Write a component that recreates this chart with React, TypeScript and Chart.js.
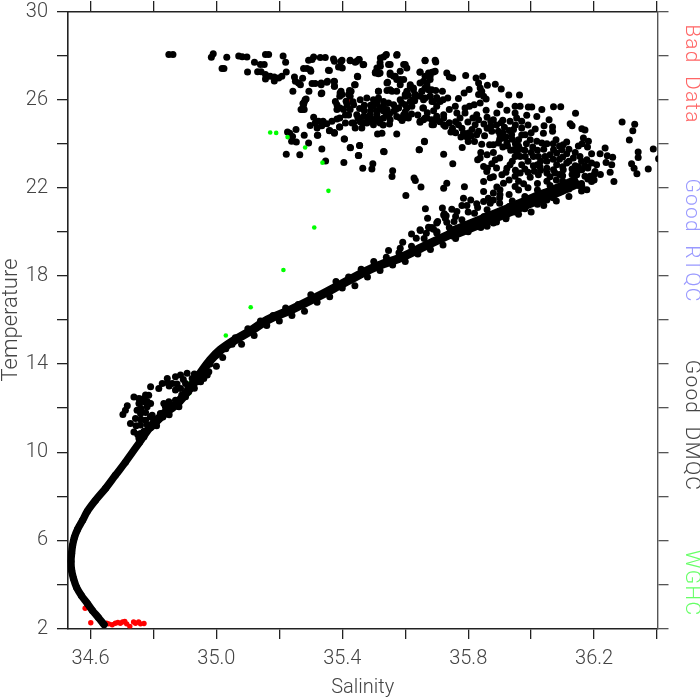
import React, { useEffect, useRef } from "react";
import { Chart, registerables } from "chart.js";

Chart.register(...registerables);

type P = [number, number];

const xTickValues = [34.6, 34.8, 35.0, 35.2, 35.4, 35.6, 35.8, 36.0, 36.2, 36.4];
const xLabelled = ["34.6", "35.0", "35.4", "35.8", "36.2"];
const yTickValues = [2, 4, 6, 8, 10, 12, 14, 16, 18, 20, 22, 24, 26, 28, 30];
const yLabelled = [2, 6, 10, 14, 18, 22, 26, 30];

// Salinity, temperature: the tight core of the water-mass curve
const deepCurve: P[] = [
  [34.643,2.18],[34.625,2.5],[34.606,2.82],[34.59,3.14],[34.571,3.5],[34.556,3.86],[34.546,4.27],[34.54,4.64],[34.538,5.05],[34.54,5.41],
  [34.543,5.77],[34.549,6.14],[34.559,6.5],[34.575,6.91],[34.59,7.32],[34.616,7.82],[34.648,8.36],[34.679,8.95],[34.711,9.55],[34.756,10.45],[34.79,11.14],
];
const midCurve: P[] = [
  [34.79,11.14],[34.832,11.73],[34.879,12.27],[34.917,12.93],[34.949,13.57],[34.981,14.18],[35.013,14.64],[35.054,15.05],[35.108,15.5],[35.162,16.0],[35.235,16.45],
  [35.321,17.05],[35.416,17.77],[35.505,18.41],[35.584,18.82],[35.67,19.41],[35.752,19.95],
];
const topCurve: P[] = [
  [35.752,19.95],[35.838,20.45],[35.924,20.95],[36.006,21.45],[36.07,21.8],[36.133,22.2],
];

const bandEdges: P[] = [
  [35.06,15.2],[35.08,14.9],[35.1,15.6],[35.12,15.3],[35.14,15.95],[35.16,15.75],[35.18,16.2],[35.2,15.95],[35.22,16.55],[35.24,16.2],
  [35.26,16.7],[35.28,16.4],[35.3,17.15],[35.32,16.8],[35.34,17.2],[35.36,17.05],[35.38,17.75],[35.4,17.45],[35.42,17.95],[35.44,17.55],
  [35.46,18.3],[35.48,17.95],[35.5,18.65],[35.52,18.25],[35.54,18.85],[35.56,18.5],[35.58,19.05],[35.6,18.65],[35.62,19.35],[35.64,19.0],
  [35.66,19.7],[35.68,19.2],[35.7,19.95],[35.72,19.4],[35.74,20.2],[35.76,19.7],[35.78,20.55],[35.8,20.0],[35.82,20.85],[35.84,20.2],
  [35.86,21.0],[35.88,20.4],[35.9,21.3],[35.92,20.65],[35.94,21.4],[35.96,20.8],[35.98,21.6],[36.0,20.9],[36.02,21.9],[36.04,21.2],
  [36.06,22.1],[36.08,21.4],[36.1,22.3],[36.12,21.6],[36.14,22.55],[36.16,21.85],
  [35.85,20.7],[35.87,20.7],[35.89,20.85],[35.91,21.0],[35.93,21.15],[35.95,21.2],[35.97,21.3],[35.99,21.3],[36.01,21.5],[36.03,21.6],
  [36.05,21.75],[36.07,21.9],[36.09,22.0],[36.11,22.1],[36.13,22.3],[36.13,22.6],[36.16,22.2],[36.18,22.4],[36.2,22.6],
  [35.0,14.4],[35.02,14.3],[34.98,14.0],[35.0,13.9],[35.03,14.7],[35.05,14.9],[35.01,14.6],[34.95,13.2],[34.93,12.9],
  [35.62,19.9],[35.7,20.4],[35.76,20.7],[35.8,20.9],[35.83,21.1],[35.87,21.3],[35.9,21.55],[35.93,21.7],[35.96,21.9],[35.99,22.0],
  [36.02,22.2],[36.05,22.3],[36.08,22.35],[36.1,22.55],[36.13,22.85],[36.15,22.95],[36.18,22.9],[36.2,22.35],[36.22,22.6],[36.17,23.0],
  [36.15,22.1],[36.12,21.95],[36.1,21.85],[36.07,21.55],[36.05,21.45],[36.02,21.25],[35.98,21.05],[35.95,20.9],[35.92,20.6],[35.89,20.45],[35.86,20.25],
];

const shelfBump: P[] = [
  [34.703,11.71],[34.711,11.91],[34.717,12.11],[34.738,12.51],[34.754,12.44],[34.754,12.21],[34.77,12.44],[34.785,12.59],[34.791,12.97],[34.817,12.89],
  [34.828,13.12],[34.844,13.35],[34.86,13.12],[34.87,13.42],[34.886,13.5],[34.907,13.58],[34.923,13.35],[34.939,13.5],[34.955,13.65],[34.976,13.65],
  [34.971,13.5],[34.77,12.29],[34.78,12.06],[34.791,12.21],[34.748,11.91],[34.759,11.76],[34.743,11.53],[34.727,11.3],[34.759,11.23],[34.775,11.45],
  [34.796,11.68],[34.801,11.45],[34.738,10.92],[34.759,10.85],[34.78,11.0],[34.754,10.62],[34.791,11.23],[34.833,12.21],[34.844,11.91],[34.849,12.29],
  [34.87,12.36],[34.886,12.44],[34.87,12.82],[34.886,12.89],[34.902,13.12],[34.822,11.76],[34.812,11.45],[34.838,12.06],[34.881,12.06],[34.902,12.52],[34.912,12.74],
  [34.775,11.8],[34.76,11.5],[34.745,11.2],[34.78,11.25],[34.77,10.95],[34.75,10.8],[34.77,10.7],[34.79,11.6],[34.81,11.2],[34.83,11.6],
  [34.85,11.7],[34.86,12.0],[34.88,12.2],[34.89,12.6],[34.91,12.95],[34.925,13.1],[34.94,13.2],[34.96,13.35],[34.85,13.0],[34.845,13.15],
  [34.875,13.1],[34.895,13.3],[34.93,13.55],[34.76,12.4],[34.78,12.3],[34.76,12.0],[34.775,12.6],
];

const upperLeft: P[] = [
  [34.849,28.05],[34.862,28.05],[34.984,27.92],[34.99,28.08],[35.033,27.92],[35.071,27.98],[35.082,27.95],[35.097,27.94],[35.156,28.05],[35.166,28.05],
  [35.212,27.98],[35.22,27.7],[35.121,27.7],[35.14,27.59],[35.152,27.59],[35.018,27.41],[35.024,27.41],[35.099,27.26],[35.131,27.27],[35.142,27.27],
  [35.156,27.14],[35.156,26.94],[35.171,27.06],[35.184,27.03],[35.184,26.85],[35.198,26.98],[35.208,27.06],[35.222,27.26],[35.309,27.94],[35.293,27.79],
  [35.304,27.82],[35.33,27.91],[35.346,27.91],[35.372,27.85],[35.375,27.74],[35.396,27.74],[35.388,27.48],[35.4,27.44],[35.425,27.77],[35.441,27.7],
  [35.454,27.82],[35.466,27.58],[35.277,27.41],[35.288,27.41],[35.298,27.36],[35.3,27.29],[35.359,27.32],[35.449,27.04],[35.248,27.03],[35.251,26.83],
  [35.261,26.76],[35.267,26.68],[35.274,26.97],[35.304,26.73],[35.314,26.73],[35.333,26.68],[35.351,26.79],[35.375,26.82],[35.375,26.61],[35.439,26.68],
  [35.243,26.38],[35.294,26.38],[35.333,26.27],[35.285,26.03],[35.279,25.88],[35.275,25.82],[35.269,25.55],[35.279,25.55],[35.396,26.38],[35.392,26.15],
  [35.423,26.42],[35.42,26.23],[35.428,26.38],[35.309,25.2],[35.314,24.94],[35.298,24.83],[35.325,25.02],[35.339,25.02],[35.32,24.71],[35.335,24.82],
  [35.351,24.91],[35.367,25.02],[35.383,25.12],[35.392,25.17],[35.41,24.94],[35.431,24.94],[35.392,24.76],[35.359,24.59],[35.375,24.48],[35.322,24.38],
  [35.279,24.38],[35.253,24.65],[35.226,24.53],[35.233,24.48],[35.242,24.33],[35.239,24.11],[35.254,24.08],[35.293,24.03],[35.222,23.52],[35.265,23.5],
  [35.335,23.76],[35.347,23.21],[35.405,23.15],[35.451,23.47],[35.426,23.82],[35.455,23.92],[35.406,24.21],[35.465,22.89],[35.494,22.85],[35.497,23.09],
  [35.533,23.64],[35.56,22.77],[35.558,22.51],
];

const denseCluster: P[] = [
  [35.538,28.01],[35.573,28.01],[35.663,27.79],[35.695,27.79],[35.52,27.67],[35.547,27.59],[35.6,27.59],[35.51,27.44],[35.52,27.21],[35.505,27.21],
  [35.552,27.21],[35.584,27.29],[35.647,27.26],[35.69,27.26],[35.563,27.06],[35.573,26.91],[35.595,26.91],[35.663,27.06],[35.679,27.06],[35.542,26.76],
  [35.616,26.61],[35.584,26.68],[35.647,26.76],[35.626,26.45],[35.653,26.38],[35.669,26.61],[35.684,26.45],[35.6,26.23],[35.573,26.38],[35.552,26.45],
  [35.515,26.38],[35.584,26.0],[35.6,25.77],[35.679,26.15],[35.69,25.92],[35.658,25.62],[35.663,26.08],[35.632,26.15],[35.626,26.0],[35.616,25.92],
  [35.499,26.0],[35.515,26.08],[35.531,25.92],[35.547,25.85],[35.563,25.77],[35.579,25.62],[35.595,25.32],[35.61,25.17],[35.499,25.7],[35.52,25.62],
  [35.542,25.55],[35.563,25.47],[35.478,26.08],[35.457,26.0],[35.436,25.77],[35.415,25.77],[35.393,25.62],[35.383,25.55],[35.404,25.55],[35.425,25.55],
  [35.446,25.32],[35.467,25.24],[35.489,25.32],[35.51,25.32],[35.531,25.17],[35.552,25.09],[35.573,25.24],[35.457,25.0],[35.436,24.94],[35.478,24.94],
  [35.499,24.86],[35.52,24.94],[35.441,24.71],[35.462,24.71],[35.526,24.48],[35.512,24.44],[35.647,25.02],[35.663,25.17],[35.684,25.09],[35.7,25.09],
  [35.69,24.86],[35.425,26.38],[35.399,26.23],[35.425,26.15],[35.378,25.92],[35.383,25.77],[35.393,26.3],[35.272,25.55],[35.282,26.0],[35.277,25.77],
  [35.399,27.79],[35.393,27.52],[35.425,27.79],[35.446,27.74],[35.468,27.59],[35.452,27.82],[35.353,26.83],[35.374,26.83],[35.375,26.61],[35.333,26.76],
  [35.335,26.3],[35.441,26.68],[35.448,27.06],[35.356,27.33],[35.573,24.44],[35.531,23.65],[35.661,24.11],[35.645,23.73],[35.455,23.92],[35.425,23.83],
  [35.407,24.21],[35.452,23.47],[35.391,24.76],[35.36,24.6],[35.375,24.51],[35.321,24.38],[35.49,25.5],[35.51,25.5],[35.53,25.5],[35.47,25.5],
  [35.455,25.6],[35.48,25.2],[35.5,25.1],[35.52,25.1],[35.54,25.3],[35.515,26.38],[35.542,26.42],[35.558,26.38],[35.544,26.79],[35.521,27.89],
  [35.54,28.05],[35.531,27.94],[35.574,28.05],[35.552,27.59],[35.521,27.51],[35.505,27.24],[35.515,27.18],[35.552,27.14],[35.568,27.06],[35.584,26.91],
  [35.45,25.15],[35.47,25.75],[35.49,25.75],[35.51,25.85],[35.53,25.7],[35.55,25.35],[35.57,25.55],[35.47,24.95],[35.49,25.05],[35.51,25.05],
  [35.53,24.85],[35.55,24.9],[35.42,25.3],[35.41,25.3],[35.59,25.05],[35.6,25.45],[35.412,25.93],[35.434,25.9],
];

const upperRight: P[] = [
  [35.663,27.77],[35.697,27.71],[35.595,27.59],[35.605,27.44],[35.647,27.24],[35.674,27.21],[35.685,27.24],[35.695,27.29],[35.658,26.83],[35.669,26.76],
  [35.679,26.91],[35.663,26.53],[35.674,26.45],[35.653,26.38],[35.647,26.15],[35.616,26.68],[35.626,26.53],[35.605,26.38],[35.632,26.23],[35.6,26.15],
  [35.589,25.85],[35.605,25.62],[35.658,26.0],[35.679,26.15],[35.685,25.92],[35.732,27.21],[35.74,27.03],[35.751,26.98],[35.792,27.09],[35.825,26.98],
  [35.833,26.76],[35.838,26.53],[35.843,26.38],[35.833,26.23],[35.849,26.15],[35.857,26.03],[35.846,27.06],[35.861,26.65],[35.886,26.7],[35.905,26.48],
  [35.929,26.21],[35.963,26.21],[35.803,26.46],[35.787,26.3],[35.769,26.05],[35.735,26.08],[35.718,26.38],[35.697,26.42],[35.711,25.92],[35.7,25.7],
  [35.74,25.55],[35.759,25.7],[35.764,25.39],[35.722,25.32],[35.722,25.17],[35.722,24.86],[35.727,24.79],[35.745,24.53],[35.695,25.09],[35.685,24.86],
  [35.669,25.17],[35.658,25.09],[35.647,24.97],[35.656,25.62],[35.621,25.7],[35.607,25.24],[35.595,25.17],[35.584,25.17],[35.79,25.62],[35.804,25.7],
  [35.79,25.39],[35.774,25.17],[35.769,24.86],[35.799,24.99],[35.815,25.17],[35.827,25.32],[35.833,25.09],[35.819,25.77],[35.838,25.85],[35.857,25.52],
  [35.822,24.86],[35.812,24.64],[35.801,24.49],[35.785,24.49],[35.777,24.3],[35.796,24.3],[35.833,24.56],[35.827,24.41],[35.852,24.36],[35.872,25.02],
  [35.872,24.79],[35.875,24.56],[35.88,25.09],[35.891,25.39],[35.901,25.77],[35.923,25.52],[35.949,25.7],[35.965,25.7],[35.991,25.67],[36.002,25.67],
  [36.034,25.55],[36.071,25.68],[36.094,25.68],[36.141,25.38],[36.057,25.09],[36.018,25.24],[35.986,25.29],[35.97,25.02],[35.949,25.39],[35.933,25.02],
  [35.91,25.06],[35.954,25.17],[35.97,24.71],[36.013,24.67],[36.041,24.82],[36.039,24.48],[36.068,24.76],[36.068,24.56],[35.944,24.64],[35.938,24.41],
  [35.896,24.56],[35.901,24.41],[35.912,24.26],[35.923,24.03],[35.896,24.03],[35.88,23.95],[35.868,23.95],[35.843,23.98],[35.96,24.18],[35.981,24.41],
  [35.997,24.18],[36.018,24.11],[36.034,24.03],[36.05,24.0],[36.079,24.18],[36.113,24.08],[36.102,23.95],[36.097,23.73],[36.124,24.91],[36.13,24.82],
  [36.161,24.68],[36.171,24.62],[36.166,24.26],[36.182,24.11],[36.162,24.0],[36.179,23.85],[36.235,23.8],[36.219,23.55],[36.242,23.45],[36.259,23.39],
  [36.238,23.15],[36.256,23.05],[36.251,22.7],[36.263,22.29],[36.289,24.99],[36.329,24.88],[36.323,24.59],[36.312,24.17],[36.34,23.62],[36.34,23.38],
  [36.388,23.76],[36.405,23.32],[36.319,23.09],[36.327,22.89],[36.336,22.64],[36.372,22.85],[36.071,23.73],[36.081,23.58],[36.113,23.55],[36.134,23.35],
  [36.155,23.42],[36.192,23.55],[36.177,23.27],[36.192,23.12],[36.208,23.05],[36.203,22.74],[36.187,22.52],[36.192,22.29],[36.171,22.52],[36.177,21.91],
  [36.161,22.06],[36.161,22.82],[36.134,22.74],[36.145,22.59],[36.113,23.12],[36.081,23.05],[36.102,22.82],[36.076,22.67],[36.05,22.89],[36.028,22.97],
  [36.007,23.0],[36.007,23.42],[36.023,23.42],[36.044,23.42],[35.981,23.42],[35.965,23.42],[35.944,23.73],[35.949,23.42],[35.933,23.05],[35.923,22.89],
  [35.907,22.59],[35.97,23.05],[35.965,22.67],[35.949,22.52],[35.976,22.18],[35.997,22.48],[36.023,22.59],[36.05,22.67],[36.071,22.82],[35.838,23.35],
  [35.83,23.27],[35.886,23.27],[35.875,23.09],[35.861,22.89],[35.849,22.97],[35.859,22.74],[35.751,23.09],[35.722,23.52],[35.781,23.83],[35.661,24.09],
  [35.644,23.73],[35.628,22.44],[35.632,22.33],[35.65,22.03],[35.602,21.65],[35.722,21.98],[35.732,22.21],[35.788,22.05],[35.849,22.29],[35.849,21.83],
  [35.891,22.03],[35.901,21.91],[35.912,22.21],[35.88,21.76],[35.864,21.53],[35.901,21.68],[35.949,22.06],[35.785,21.53],[35.808,21.45],[35.78,21.2],
  [35.796,21.2],[35.849,21.38],[35.88,21.45],[35.827,21.27],[35.664,21.05],[35.718,21.08],[35.748,21.03],[35.764,20.92],[35.722,20.77],[35.727,20.62],
  [35.671,20.62],[35.703,20.47],[35.732,20.44],[35.755,20.47],[35.647,20.09],[35.679,20.17],[35.69,20.12],[35.724,20.82],[35.73,20.73],[35.674,20.21],
  [35.685,20.2],[35.701,20.0],[35.648,20.06],[35.667,19.94],[35.635,19.71],[35.592,19.53],[35.584,19.26],[35.547,19.15],
  [35.92,24.3],[35.93,24.6],[35.94,24.2],[35.95,24.0],[35.91,24.5],[35.925,23.9],[35.935,23.7],[35.96,23.9],[35.955,23.6],[35.98,23.7],
  [36.0,23.6],[36.02,23.7],[36.03,23.2],[36.05,23.2],[36.06,23.5],[36.09,23.3],[36.1,23.4],[36.12,23.2],[36.14,23.0],[36.15,22.8],
  [36.09,22.6],[36.06,22.5],[36.03,22.8],[35.98,22.85],[35.99,23.2],[35.95,22.8],[35.94,23.2],
  [35.9,24.2],[35.915,24.75],[35.89,24.85],[35.905,24.95],[35.86,24.7],[35.85,24.9],[35.86,25.2],[35.97,24.4],[35.985,24.0],[36.0,24.5],
  [35.99,24.85],[35.95,24.85],[35.965,23.75],[36.005,23.85],[36.04,23.75],[36.07,24.0],[36.09,23.9],[36.12,23.75],[36.14,23.6],[36.16,23.2],
  [36.18,22.95],[36.15,23.9],[36.1,22.95],[36.07,23.3],[36.02,23.05],[35.88,23.6],[35.9,23.35],[35.91,23.85],[35.89,22.9],[35.88,22.5],
  [35.87,22.45],[35.86,23.5],[35.84,23.6],[35.82,24.1],[35.8,24.1],[35.76,24.5],[35.75,24.7],[35.74,24.95],[35.76,25.0],[35.78,24.7],
  [35.81,24.35],[35.7,25.25],[35.71,25.0],[35.69,25.5],[35.67,25.4],[35.64,25.3],[35.62,25.35],[35.63,25.95],[35.61,26.2],[35.7,26.1],
  [35.72,26.0],[35.92,22.7],[35.93,22.35],[35.96,22.3],[35.99,22.7],[36.01,22.75],
];

const wghcOver: P[] = [
  [35.171,24.51],[35.19,24.49],[35.226,24.3],[35.282,23.83],[35.337,23.14],[35.356,21.86],[35.311,20.2],[35.213,18.27],[35.109,16.58],[35.03,15.3],
];
const wghcUnder: P[] = [[34.913,12.67],[34.917,13.14]];

const badData: P[] = [
  [34.601,2.26],[34.583,2.92],[34.651,2.24],[34.658,2.21],[34.669,2.17],[34.679,2.24],[34.687,2.27],[34.695,2.24],[34.702,2.3],[34.709,2.32],
  [34.715,2.21],[34.725,2.09],[34.737,2.3],[34.743,2.24],[34.753,2.3],[34.759,2.21],[34.77,2.23],[35.423,25.97],[35.891,20.88],
];

const sideLabels = ["Bad Data", "Good RTQC", "Good DMQC", "WGHC"];
const sideColors = ["#ff6666", "#9a9aff", "#444444", "#66ff66"];
const sideCentres = [74, 240.5, 425.5, 583];

const INK = "#222222";
const TEXT = "#444444";
const FONT = "Roboto, 'Liberation Sans', sans-serif";

const toPts = (a: P[]) => a.map(([x, y]) => ({ x, y }));

function fixed(size: number) {
  return (scale: any) => {
    if (scale.isHorizontal()) scale.height = size;
    else scale.width = size;
    scale.paddingTop = 0;
    scale.paddingBottom = 0;
    scale.paddingLeft = 0;
    scale.paddingRight = 0;
  };
}

export default function App() {
  const ref = useRef<HTMLCanvasElement>(null);
  useEffect(() => {
    if (!ref.current) return;
    const sidePlugin = {
      id: "sideLabels",
      afterDraw(chart: any) {
        const ctx = chart.ctx;
        ctx.save();
        ctx.font = `300 21px ${FONT}`;
        ctx.textAlign = "center";
        ctx.textBaseline = "middle";
        (ctx as any).letterSpacing = "1.2px";
        (ctx as any).wordSpacing = "6px";
        sideLabels.forEach((t, i) => {
          ctx.save();
          ctx.translate(691, sideCentres[i]);
          ctx.rotate(Math.PI / 2);
          ctx.fillStyle = sideColors[i];
          ctx.fillText(t, 0, 0);
          ctx.restore();
        });
        ctx.restore();
      },
    };
    const black = { backgroundColor: "#000000", borderColor: "#000000", pointRadius: 3.5, pointBorderWidth: 0, showLine: false };
    const curve = { ...black, showLine: true, tension: 0.35, borderCapStyle: "round", borderJoinStyle: "round" };
    const xMin = 34.527;
    const xMax = 36.403;
    const setX = (s: any) => { s.ticks = xTickValues.map((value) => ({ value })); };
    const setY = (s: any) => { s.ticks = yTickValues.map((value) => ({ value })); };
    const axisGrid = (c = INK) => ({ drawOnChartArea: false, drawTicks: true, tickLength: 10.5, color: c, lineWidth: 1.3 });
    const chart = new Chart(ref.current, {
      type: "scatter",
      data: {
        datasets: [
          { data: toPts(wghcOver), backgroundColor: "#00ff00", pointRadius: 2.3, pointBorderWidth: 0, showLine: false },
          { ...curve, data: toPts(deepCurve), borderWidth: 7.4 },
          { ...curve, data: toPts(midCurve), borderWidth: 9 },
          { ...curve, data: toPts(topCurve), borderWidth: 13 },
          { ...black, data: toPts(bandEdges) },
          { ...black, data: toPts(shelfBump) },
          { ...black, data: toPts(upperLeft) },
          { ...black, data: toPts(denseCluster) },
          { ...black, data: toPts(upperRight) },
          { data: toPts(wghcUnder), backgroundColor: "#00ff00", pointRadius: 2.3, pointBorderWidth: 0, showLine: false },
          { data: toPts(badData), backgroundColor: "#ff0000", pointRadius: 2.7, pointBorderWidth: 0, showLine: false },
        ],
      } as any,
      options: {
        animation: false,
        responsive: false,
        devicePixelRatio: 1,
        layout: { padding: 0 },
        plugins: { legend: { display: false }, tooltip: { enabled: false } },
        scales: {
          x: {
            type: "linear", position: "bottom", min: xMin, max: xMax,
            afterBuildTicks: setX, afterFit: fixed(71.5),
            grid: axisGrid(), border: { color: INK, width: 1.6 },
            ticks: {
              autoSkip: false, maxRotation: 0, padding: 8, color: TEXT,
              font: { family: FONT, size: 20, weight: "300" },
              callback: (v: any) => { const s = Number(v).toFixed(1); return xLabelled.includes(s) ? s : ""; },
            },
            title: { display: true, text: "Salinity", color: TEXT, font: { family: FONT, size: 20, weight: "300", lineHeight: 1 }, padding: { top: 0, bottom: 2 } },
          },
          x2: {
            type: "linear", position: "top", axis: "x", min: xMin, max: xMax,
            afterBuildTicks: setX, afterFit: fixed(11.5),
            grid: axisGrid(), border: { color: INK, width: 1.6 },
            ticks: { display: false },
          },
          y: {
            type: "linear", position: "left", min: 2, max: 30,
            afterBuildTicks: setY, afterFit: fixed(67.5),
            grid: axisGrid(), border: { color: INK, width: 1.6 },
            ticks: {
              autoSkip: false, padding: 9, color: TEXT,
              font: { family: FONT, size: 20, weight: "300" },
              callback: (v: any) => (yLabelled.includes(Number(v)) ? String(v) : ""),
            },
            title: { display: true, text: "Temperature", color: TEXT, font: { family: FONT, size: 22, weight: "300", lineHeight: 1 }, padding: { top: 0, bottom: 0 } },
          },
          y2: {
            type: "linear", position: "right", axis: "y", min: 2, max: 30,
            afterBuildTicks: setY, afterFit: fixed(42),
            grid: axisGrid("#555555"), border: { color: "#555555", width: 1.4 },
            ticks: { display: false },
          },
        },
      } as any,
      plugins: [sidePlugin],
    });
    return () => chart.destroy();
  }, []);
  return (
    <canvas
      ref={ref}
      width={700}
      height={700}
      style={{ position: "fixed", left: 0, top: 0, width: 700, height: 700, display: "block", background: "#ffffff" }}
    />
  );
}
